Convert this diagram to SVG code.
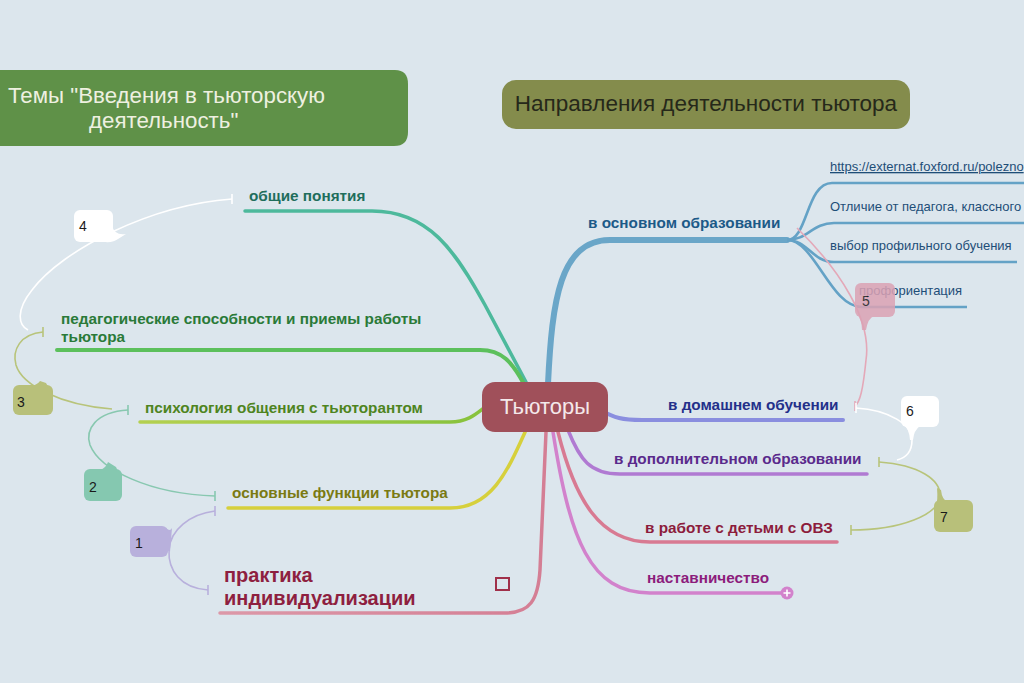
<svg xmlns="http://www.w3.org/2000/svg" width="1024" height="683" viewBox="0 0 1024 683">
<style>
.lbl{font-family:"Liberation Sans",Arial,sans-serif;font-weight:bold;font-size:15.3px}
.sub{font-family:"Liberation Sans",Arial,sans-serif;font-size:13px;fill:#1e4e78}
.num{font-family:"Liberation Sans",Arial,sans-serif;font-size:14px;fill:#1a1a1a}
.br{fill:none;stroke-linecap:round;stroke-linejoin:round}
.rel{fill:none;stroke-width:1.6}
</style>
<defs>
  <linearGradient id="gPsy" x1="140" y1="0" x2="490" y2="0" gradientUnits="userSpaceOnUse">
    <stop offset="0" stop-color="#b4d050"/><stop offset="1" stop-color="#86c23c"/>
  </linearGradient>
  <linearGradient id="gPrak" x1="220" y1="0" x2="546" y2="0" gradientUnits="userSpaceOnUse">
    <stop offset="0" stop-color="#dc98a8"/><stop offset="1" stop-color="#d47e94"/>
  </linearGradient>
</defs>
<rect x="0" y="0" width="1024" height="683" fill="#dce6ed"/>

<g id="connectors">
  <!-- left branches -->
  <path class="br" d="M245 211 L372 211 C428 211 455 250 485 305 L526 382" stroke="#4db99c" stroke-width="3.5"/>
  <path class="br" d="M57 350 L480 350 C502 350 512 362 524 384" stroke="#5cc05c" stroke-width="4"/>
  <path class="br" d="M140 422 L450 422 C470 422 478 412 488 405" stroke="url(#gPsy)" stroke-width="3.5"/>
  <path class="br" d="M228 508 L450 508 C492 508 508 470 526 430" stroke="#d6d03c" stroke-width="3.5"/>
  <path class="br" d="M220 613 L505 613 C530 613 538 600 540 570 L546 432" stroke="url(#gPrak)" stroke-width="3.5"/>
  <!-- right branches -->
  <path class="br" d="M548 384 C552 300 560 240 610 240 L787 240" stroke="#6aa6c8" stroke-width="6"/>
  <g stroke="#64a2c6" stroke-width="2.6" fill="none">
    <path d="M787 240 C808 240 806 183 832 183 L1024 183"/>
    <path d="M787 240 C808 240 812 223 834 223 L1024 223"/>
    <path d="M787 240 C808 240 812 262 834 262 L1017 262"/>
    <path d="M787 240 C815 240 830 307 862 307 L967 307"/>
  </g>
  <path class="br" d="M600 410 C615 418 622 420 642 420 L843 420" stroke="#8a8edf" stroke-width="4"/>
  <path class="br" d="M568 430 C580 460 590 474 620 474 L867 474" stroke="#b07ad2" stroke-width="3.5"/>
  <path class="br" d="M558 432 C575 500 600 542 650 542 L837 542" stroke="#d87a92" stroke-width="3.5"/>
  <path class="br" d="M553 432 C570 540 590 593 650 593 L787 593" stroke="#d282cc" stroke-width="3.5"/>

  <!-- relationship lines -->
  <path class="rel" d="M232 199 C150 205 62 250 32 290 C16 310 18 325 28 330" stroke="#ffffff"/>
  <line x1="232" y1="194" x2="232" y2="204" stroke="#ffffff" stroke-width="1.6"/>
  <path class="rel" d="M43 332 C20 334 12 350 16 365 C22 385 60 405 112 409" stroke="#b8c47a"/>
  <line x1="43" y1="327" x2="43" y2="337" stroke="#b8c47a" stroke-width="1.6"/>
  <path class="rel" d="M128 410 C95 412 85 430 90 445 C100 470 150 494 215 496" stroke="#88c8b0"/>
  <line x1="128" y1="405" x2="128" y2="415" stroke="#88c8b0" stroke-width="1.6"/>
  <line x1="215" y1="491" x2="215" y2="501" stroke="#88c8b0" stroke-width="1.6"/>
  <path class="rel" d="M215 511 C190 514 170 530 169 550 C168 570 180 588 208 590" stroke="#b8b0dc"/>
  <line x1="215" y1="506" x2="215" y2="516" stroke="#b8b0dc" stroke-width="1.6"/>
  <line x1="208" y1="585" x2="208" y2="595" stroke="#b8b0dc" stroke-width="1.6"/>
  <path class="rel" d="M797 228 C840 270 872 320 866 360 C863 390 860 402 855 406" stroke="#e4a8b8"/>
  <line x1="855" y1="401" x2="855" y2="411" stroke="#e4a8b8" stroke-width="1.6"/>
  <path class="rel" d="M856 408 C890 410 912 425 912 440 C912 452 905 458 897 460" stroke="#ffffff"/>
  <line x1="856" y1="403" x2="856" y2="413" stroke="#ffffff" stroke-width="1.6"/>
  <path class="rel" d="M879 462 C920 465 940 480 940 495 C940 515 900 530 851 530" stroke="#b8c47a"/>
  <line x1="879" y1="457" x2="879" y2="467" stroke="#b8c47a" stroke-width="1.6"/>
  <line x1="851" y1="525" x2="851" y2="535" stroke="#b8c47a" stroke-width="1.6"/>
</g>

<g id="title-left">
  <path d="M-10 70 L395 70 Q408 70 408 84 L408 132 Q408 146 394 146 L-10 146 Z" fill="#5f9148"/>
  <text font-family="Liberation Sans,Arial,sans-serif" font-size="22.3" fill="#eef0e0"><tspan x="8" y="103">Темы "Введения в тьюторскую</tspan><tspan x="89" y="128">деятельность"</tspan></text>
</g>
<g id="title-right">
  <rect x="502" y="80" width="408" height="49" rx="14" fill="#848c4c"/>
  <text x="706" y="111" text-anchor="middle" font-family="Liberation Sans,Arial,sans-serif" font-size="22.5" fill="#26281a">Направления деятельности тьютора</text>
</g>

<g id="center">
  <rect x="482" y="382" width="126" height="50" rx="13" fill="#a0505a"/>
  <text x="545" y="414" text-anchor="middle" font-family="Liberation Sans,Arial,sans-serif" font-size="22" fill="#f4e8ea">Тьюторы</text>
</g>

<g id="n-obshchie"><text class="lbl" x="249" y="201" fill="#1f6e5c">общие понятия</text></g>
<g id="n-pedagog"><text class="lbl" fill="#2a7a38"><tspan x="61" y="324">педагогические способности и приемы работы</tspan><tspan x="61" y="342">тьютора</tspan></text></g>
<g id="n-psych"><text class="lbl" x="145" y="413" fill="#4e8420">психология общения с тьюторантом</text></g>
<g id="n-funk"><text class="lbl" x="232" y="498" fill="#7a7a12">основные функции тьютора</text></g>
<g id="n-praktika">
  <text font-family="Liberation Sans,Arial,sans-serif" font-weight="bold" font-size="20" fill="#8e1f40"><tspan x="224" y="582">практика</tspan><tspan x="224" y="605">индивидуализации</tspan></text>
  <rect x="496" y="578" width="13" height="12" fill="none" stroke="#a0304a" stroke-width="2"/>
</g>

<g id="n-osnovnoe"><text class="lbl" x="588" y="228" fill="#1c5a88">в основном образовании</text></g>
<g id="n-link"><text class="sub" x="830" y="171" text-decoration="underline">https://externat.foxford.ru/polezno</text></g>
<g id="n-otlichie"><text class="sub" x="830" y="211">Отличие от педагога, классного</text></g>
<g id="n-vybor"><text class="sub" x="830" y="250">выбор профильного обучения</text></g>
<g id="n-proforient"><text class="sub" x="859" y="295">профориентация</text></g>
<g id="n-domash"><text class="lbl" x="668" y="410" fill="#24308a">в домашнем обучении</text></g>
<g id="n-dop"><text class="lbl" x="614" y="464" fill="#5a2a8c">в дополнительном образовании</text></g>
<g id="n-ovz"><text class="lbl" x="645" y="533" fill="#8c1c3c">в работе с детьми с ОВЗ</text></g>
<g id="n-nastav">
  <text class="lbl" x="647" y="583" fill="#8c1c7c">наставничество</text>
  <circle cx="787" cy="593" r="6.5" fill="#d282cc"/>
  <path d="M783.5 593 H790.5 M787 589.5 V596.5" stroke="#ffffff" stroke-width="1.6"/>
</g>

<g id="b4">
  <path d="M98 241 Q112 244 118 239 L126 234 Q115 236 112 226 Z" fill="#ffffff"/>
  <rect x="74" y="210" width="39" height="32" rx="6" fill="#ffffff"/>
  <text class="num" x="79" y="231">4</text>
</g>
<g id="b3">
  <path d="M32 386 Q38 384 40 381 L46 383 Q48 388 53 392 Z" fill="#b8c07a"/>
  <rect x="13" y="385" width="40" height="30" rx="6" fill="#b8c07a"/>
  <text class="num" x="17" y="407">3</text>
</g>
<g id="b2">
  <path d="M100 470 Q106 468 108 462 L116 467 Q118 472 122 478 Z" fill="#85c8b0"/>
  <rect x="84" y="469" width="38" height="32" rx="6" fill="#85c8b0"/>
  <text class="num" x="89" y="492">2</text>
</g>
<g id="b1">
  <path d="M166 528 Q170 532 172 528 L170 552 Q168 548 166 556 Z" fill="#b8b0dc"/>
  <rect x="130" y="526" width="38" height="31" rx="6" fill="#b8b0dc"/>
  <text class="num" x="135" y="548">1</text>
</g>
<g id="b5" opacity="0.85">
  <path d="M857 314 Q862 320 862 330 L866 330 Q868 318 874 316 Z" fill="#dba2b4"/>
  <rect x="855" y="283" width="40" height="34" rx="6" fill="#dba2b4"/>
  <text class="num" x="862" y="306">5</text>
</g>
<g id="b6">
  <path d="M903 424 Q909 428 910 440 L913 440 Q914 430 920 426 Z" fill="#ffffff"/>
  <rect x="901" y="396" width="38" height="31" rx="6" fill="#ffffff"/>
  <text class="num" x="906" y="416">6</text>
</g>
<g id="b7">
  <path d="M936 506 Q938 500 937 488 L941 490 Q942 500 948 502 Z" fill="#b8c07a"/>
  <rect x="934" y="500" width="39" height="32" rx="6" fill="#b8c07a"/>
  <text class="num" x="940" y="522">7</text>
</g>
</svg>
